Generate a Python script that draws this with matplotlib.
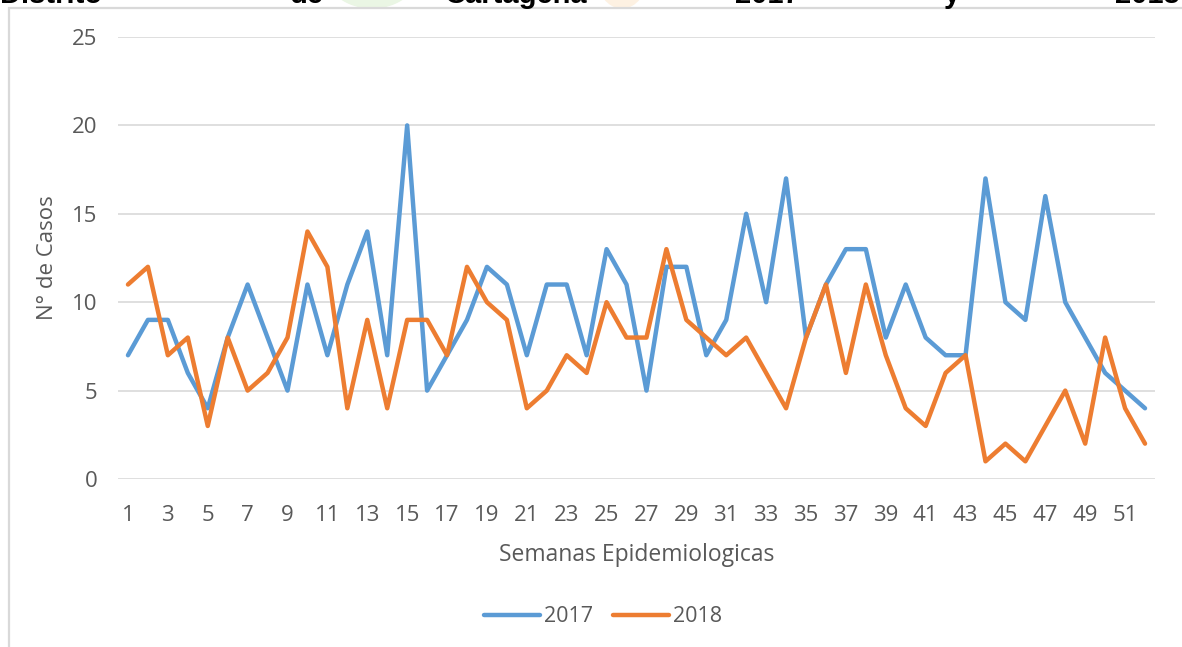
import matplotlib
matplotlib.use("Agg")
import matplotlib.pyplot as plt
from matplotlib.patches import Rectangle, Ellipse

weeks = list(range(1, 53))
casos_2017 = [7, 9, 9, 6, 4, 8, 11, 8, 5, 11, 7, 11, 14, 7, 20, 5, 7, 9, 12, 11,
              7, 11, 11, 7, 13, 11, 5, 12, 12, 7, 9, 15, 10, 17, 8, 11, 13, 13, 8, 11,
              8, 7, 7, 17, 10, 9, 16, 10, 8, 6, 5, 4]
casos_2018 = [11, 12, 7, 8, 3, 8, 5, 6, 8, 14, 12, 4, 9, 4, 9, 9, 7, 12, 10, 9,
              4, 5, 7, 6, 10, 8, 8, 13, 9, 8, 7, 8, 6, 4, 8, 11, 6, 11, 7, 4,
              3, 6, 7, 1, 2, 1, 3, 5, 2, 8, 4, 2]
xtick_labels = [str(w) for w in range(1, 53, 2)]
yticks = [0, 5, 10, 15, 20, 25]
title_words = ["Distrito", "de", "Cartagena", "2017", "y", "2018"]
title_x = [0, 290, 445, 735, 944, 1115]

W, H = 1182, 647
gray = "#595959"
grid = "#d9d9d9"
plt.rcParams["font.family"] = ["Open Sans", "DejaVu Sans"]

fig = plt.figure(figsize=(W / 100, H / 100), dpi=100)

# faint watermark blobs behind the clipped heading
fig.patches.append(Ellipse((372 / W, 1 - (-30) / H), 95 / W, 76 / H,
                           transform=fig.transFigure, color="#eaf6e4", zorder=0))
fig.patches.append(Ellipse((622 / W, 1 - (-25) / H), 50 / W, 66 / H,
                           transform=fig.transFigure, color="#fdf1e2", zorder=0))

# clipped heading text from the page above the chart
for word, x in zip(title_words, title_x):
    fig.text(x / W, 1 - 3 / H, word, fontsize=21, fontweight="bold",
             family="Liberation Sans", color="black", va="baseline", ha="left")

# chart frame
fig.patches.append(Rectangle((9 / W, -0.05), 1.1, 1 - 8 / H + 0.05,
                             transform=fig.transFigure, fill=False,
                             edgecolor=grid, linewidth=1.6, zorder=1))

ax = fig.add_axes([118 / W, 168 / H, (1155 - 118) / W, (479 - 37) / H])
ax.plot(weeks, casos_2017, color="#5B9BD5", lw=3.2, label="2017",
        solid_joinstyle="round", solid_capstyle="round")
ax.plot(weeks, casos_2018, color="#ED7D31", lw=3.2, label="2018",
        solid_joinstyle="round", solid_capstyle="round")

ax.set_xlim(0.5, 52.5)
ax.set_ylim(0, 25)
ax.set_xticks(range(1, 53, 2))
ax.set_xticklabels(xtick_labels)
ax.set_yticks(yticks)
for s in ax.spines.values():
    s.set_visible(False)
ax.grid(axis="y", color=grid, lw=1.2)
ax.set_axisbelow(True)
ax.tick_params(axis="both", length=0, colors=gray, labelsize=16)
ax.tick_params(axis="x", pad=19)
ax.tick_params(axis="y", pad=15)

ax.set_xlabel("Semanas Epidemiologicas", fontsize=16.5, color=gray, labelpad=12)
ax.set_ylabel("N° de Casos", fontsize=16, color=gray)
ax.yaxis.set_label_coords(-0.058, 0.5)

ax.legend(loc="center", bbox_to_anchor=(603 / W, 1 - 617 / H),
          bbox_transform=fig.transFigure, ncol=2, frameon=False,
          fontsize=15.5, labelcolor=gray, handlelength=2.6,
          handletextpad=0.2, columnspacing=0.9)

fig.savefig("out.png", dpi=100)
